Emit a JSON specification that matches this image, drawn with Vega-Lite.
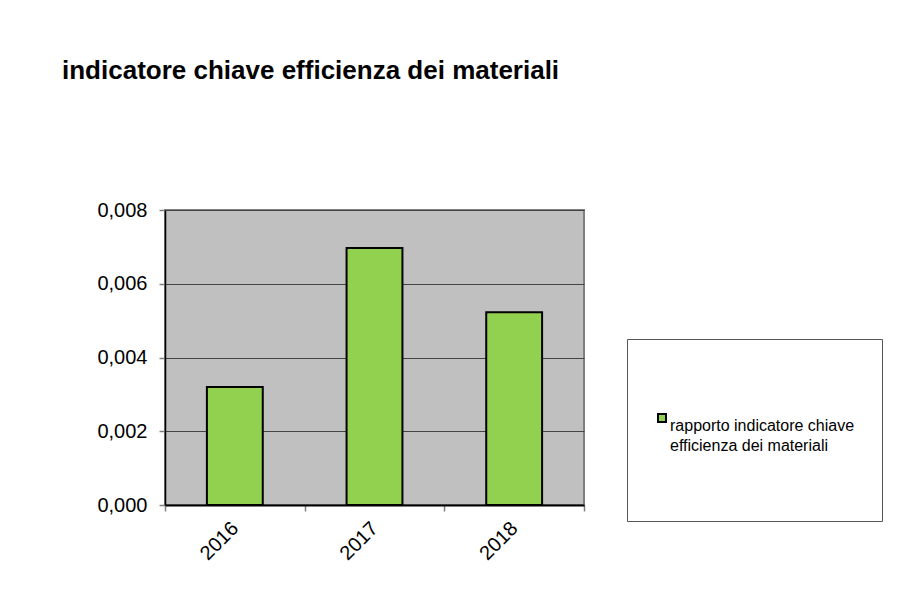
{
  "$schema": "https://vega.github.io/schema/vega-lite/v6.json",
  "width": 419,
  "height": 295,
  "autosize": "none",
  "padding": {"left": 165, "top": 210, "right": 319, "bottom": 106},
  "background": "white",
  "title": {
    "text": "indicatore chiave efficienza dei materiali",
    "anchor": "start",
    "frame": "group",
    "dx": -103,
    "offset": 95,
    "baseline": "alphabetic",
    "font": "Liberation Sans",
    "fontSize": 26,
    "fontWeight": "bold",
    "color": "black"
  },
  "data": {
    "values": [
      {"anno": "2016", "valore": 0.0032},
      {"anno": "2017", "valore": 0.00697},
      {"anno": "2018", "valore": 0.00523}
    ]
  },
  "mark": {"type": "bar", "stroke": "black", "strokeWidth": 2, "width": {"band": 0.4}},
  "encoding": {
    "x": {
      "field": "anno",
      "type": "nominal",
      "scale": {"paddingInner": 0, "paddingOuter": 0},
      "axis": {
        "title": null,
        "labelAngle": -45,
        "labelAlign": "right",
        "labelBaseline": "middle",
        "labelPadding": 14,
        "tickBand": "extent",
        "tickSize": 6,
        "tickColor": "#808080",
        "tickWidth": 1.5,
        "domainColor": "black",
        "domainWidth": 2,
        "labelFont": "Liberation Sans",
        "labelFontSize": 20,
        "labelColor": "black"
      }
    },
    "y": {
      "field": "valore",
      "type": "quantitative",
      "scale": {"domain": [0, 0.008], "nice": false},
      "axis": {
        "title": null,
        "values": [0, 0.002, 0.004, 0.006, 0.008],
        "labelExpr": "replace(format(datum.value, '.3f'), '.', ',')",
        "labelPadding": 12,
        "tickSize": 6,
        "tickColor": "#808080",
        "tickWidth": 1.5,
        "domainColor": "black",
        "domainWidth": 1.5,
        "grid": true,
        "gridColor": "#444444",
        "gridWidth": 1,
        "labelFont": "Liberation Sans",
        "labelFontSize": 20,
        "labelColor": "black"
      }
    },
    "color": {
      "datum": "rapporto indicatore chiave efficienza dei materiali",
      "type": "nominal",
      "scale": {"range": ["#92d050"]},
      "legend": {
        "title": " ",
        "titleFontSize": 14,
        "titlePadding": 30,
        "orient": "none",
        "legendX": 462,
        "legendY": 129,
        "padding": 27,
        "strokeColor": "#555555",
        "fillColor": "white",
        "symbolType": "square",
        "symbolSize": 64,
        "symbolStrokeColor": "black",
        "symbolStrokeWidth": 2,
        "symbolOpacity": 1,
        "labelOffset": 0,
        "labelBaseline": "top",
        "labelFont": "Liberation Sans",
        "labelFontSize": 16,
        "labelColor": "black",
        "labelLimit": 400,
        "labelExpr": "['rapporto indicatore chiave', 'efficienza dei materiali', '', '']"
      }
    }
  },
  "config": {
    "view": {"fill": "#c0c0c0", "stroke": "#808080", "strokeWidth": 2},
    "style": {"guide-label": {"lineHeight": 20}}
  }
}
